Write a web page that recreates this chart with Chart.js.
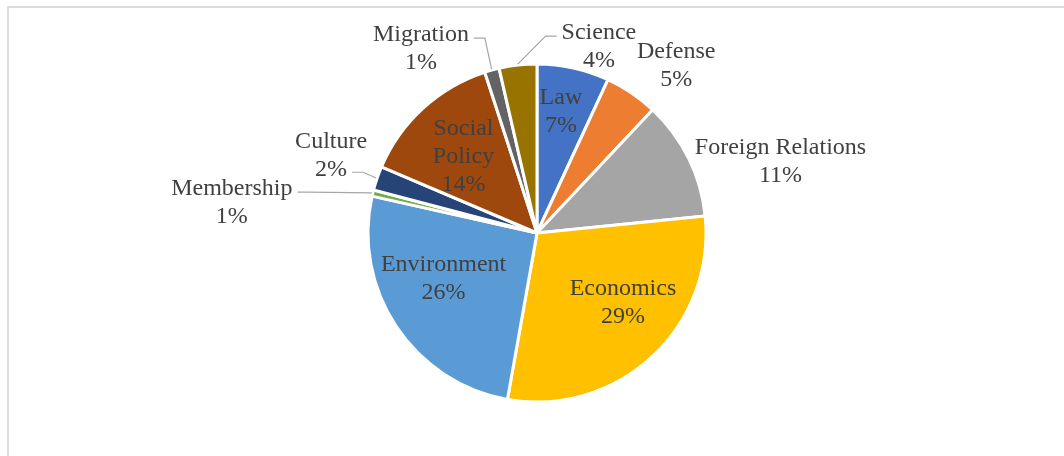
<!DOCTYPE html>
<html lang="en">
<head>
  <meta charset="UTF-8"/>
  <title>Topics share</title>
  <script src="https://cdn.jsdelivr.net/npm/chart.js"></script>
  <style>
    html, body { margin: 0; padding: 0; background: #fff; }
    .wrap { position: relative; width: 1064px; height: 456px; overflow: hidden; }
    .frame { position: absolute; left: 7px; top: 6px; width: 1100px; height: 500px; border: 2px solid #dcdcdc; box-sizing: border-box; }
    canvas { position: absolute; left: 0; top: 0; }
  </style>
</head>
<body>
<div class="wrap">
  <div class="frame"></div>
  <canvas id="pie" width="1064" height="456"></canvas>
</div>
<script>
// data (share in %)
const categories = ["Law", "Defense", "Foreign Relations", "Economics", "Environment",
                    "Membership", "Culture", "Social Policy", "Migration", "Science"];
const shares = [6.9, 5.1, 11.4, 29.4, 25.7, 0.6, 2.3, 13.6, 1.4, 3.6];
const colors = ["#4472C4", "#ED7D31", "#A5A5A5", "#FFC000", "#5B9BD5",
                "#70AD47", "#264478", "#9E480E", "#636363", "#997300"];

// label placement: k = fraction of radius along mid-angle, dx/dy nudge,
// lines = how the name is wrapped, leader = which line the leader hooks onto
const labelPlace = [
  { k: 0.74, dx: -3, dy: -2, lines: ["Law"] },
  { k: 1.25, dx: 21, dy: 5, lines: ["Defense"] },
  { k: 1.0, dx: 92, dy: 1, lines: ["Foreign Relations"] },
  { k: 0.6, dx: 17, dy: -8, lines: ["Economics"] },
  { k: 0.6, dx: -9, dy: -13, lines: ["Environment"] },
  { k: 1.0, dx: -141, dy: 7, lines: ["Membership"], leader: { line: 0, side: 1 } },
  { k: 1.0, dx: -46, dy: -26, lines: ["Culture"], leader: { line: 1, side: 1 } },
  { k: 0.6, dx: -5, dy: -5, lines: ["Social", "Policy"] },
  { k: 1.0, dx: -71, dy: -24, lines: ["Migration"], leader: { line: 0, side: 1 } },
  { k: 1.0, dx: 81, dy: -21, lines: ["Science"], leader: { line: 0, side: -1 } }
];

const FONT = "24px 'Liberation Serif', 'Times New Roman', serif";
const LINE_H = 28;
const TEXT_SHIFT = 3; // canvas "middle" sits a bit high for serif text

const labelPlugin = {
  id: "pieLabels",
  afterDatasetsDraw(chart) {
    const ctx = chart.ctx;
    const arcs = chart.getDatasetMeta(0).data;
    const total = shares.reduce((a, b) => a + b, 0);
    ctx.save();
    ctx.font = FONT;
    ctx.fillStyle = "#404040";
    ctx.textAlign = "center";
    ctx.textBaseline = "middle";
    arcs.forEach((arc, i) => {
      const p = labelPlace[i];
      const mid = (arc.startAngle + arc.endAngle) / 2;
      const r = arc.outerRadius;
      const cx = arc.x + Math.cos(mid) * r * p.k + p.dx;
      const cy = arc.y + Math.sin(mid) * r * p.k + p.dy;
      const lines = p.lines.concat([Math.round(shares[i] / total * 100) + "%"]);
      const top = cy - (lines.length - 1) * LINE_H / 2;
      lines.forEach((t, j) => ctx.fillText(t, cx, top + j * LINE_H + TEXT_SHIFT));

      if (p.leader) {
        const ln = lines[p.leader.line];
        const w = ctx.measureText(ln).width;
        const sx = cx + p.leader.side * (w / 2 + 5);
        const sy = top + p.leader.line * LINE_H + 6;
        const kx = sx + p.leader.side * 11;
        const ex = arc.x + Math.cos(mid) * (r + 1);
        const ey = arc.y + Math.sin(mid) * (r + 1);
        ctx.beginPath();
        ctx.strokeStyle = "#A6A6A6";
        ctx.lineWidth = 1.2;
        ctx.moveTo(sx, sy);
        ctx.lineTo(kx, sy);
        ctx.lineTo(ex, ey);
        ctx.stroke();
      }
    });
    ctx.restore();
  }
};

new Chart(document.getElementById("pie"), {
  type: "pie",
  data: {
    labels: categories,
    datasets: [{
      data: shares,
      backgroundColor: colors,
      borderColor: "#ffffff",
      borderWidth: 3
    }]
  },
  options: {
    responsive: false,
    animation: false,
    radius: 169,
    layout: { padding: { left: 10, right: 0, top: 10, bottom: 0 } },
    plugins: { legend: { display: false }, tooltip: { enabled: false } }
  },
  plugins: [labelPlugin]
});
</script>
</body>
</html>
